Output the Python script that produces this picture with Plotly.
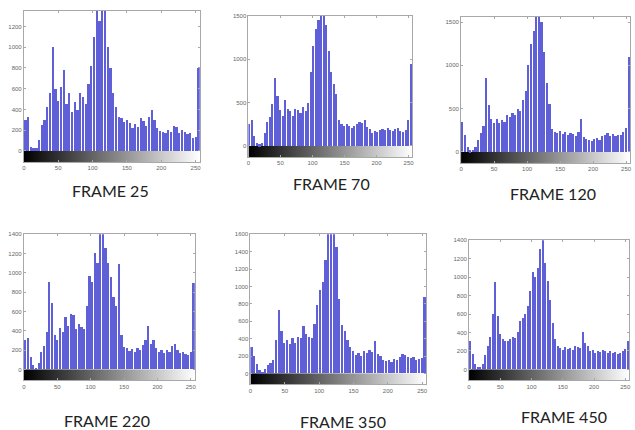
import plotly.graph_objects as go

# gray-level bins (start level of each 4-level bin)
levels = list(range(0, 256, 4))
x_ticks = [0, 50, 100, 150, 200, 250]

frame_labels = ["FRAME 25", "FRAME 70", "FRAME 120", "FRAME 220", "FRAME 350", "FRAME 450"]

frame25 = [300, 330, 40, 30, 30, 110, 250, 300, 420, 560, 1000, 600, 480, 620, 780, 450,
           560, 380, 470, 400, 560, 520, 450, 650, 820, 1100, 1350, 1250, 1350, 1350, 1000, 800,
           560, 420, 330, 320, 280, 300, 270, 220, 260, 230, 320, 290, 240, 330, 400, 300,
           220, 190, 180, 170, 200, 180, 240, 230, 170, 200, 180, 160, 170, 130, 140, 800]
frame70 = [250, 300, 120, 30, 20, 40, 150, 280, 330, 480, 780, 580, 420, 350, 530, 430,
           400, 350, 430, 420, 380, 450, 400, 500, 850, 1150, 1350, 1450, 1500, 1500, 1400, 1100,
           850, 720, 600, 300, 250, 230, 250, 230, 210, 230, 260, 280, 270, 300, 220, 200,
           150, 170, 160, 190, 200, 180, 210, 190, 170, 200, 210, 170, 160, 180, 300, 950]
frame120 = [350, 200, 60, 20, 25, 60, 140, 220, 300, 860, 540, 380, 330, 380, 330, 370,
            350, 430, 400, 450, 430, 500, 470, 600, 700, 1000, 1250, 1400, 1560, 1560, 1500, 1150,
            800, 550, 270, 230, 220, 240, 210, 230, 200, 220, 210, 190, 230, 380, 170, 150,
            140, 130, 150, 160, 140, 180, 200, 220, 190, 210, 180, 200, 200, 230, 280, 1100]
frame220 = [300, 320, 120, 40, 15, 60, 180, 240, 380, 900, 680, 350, 300, 430, 380, 540,
            450, 570, 560, 420, 470, 440, 420, 650, 960, 900, 1200, 1100, 1400, 1400, 1250, 1100,
            950, 750, 650, 1090, 350, 230, 220, 190, 210, 180, 220, 200, 250, 300, 450, 260,
            300, 220, 180, 200, 170, 200, 180, 240, 260, 200, 170, 180, 160, 150, 180, 890]
frame350 = [300, 200, 100, 40, 15, 50, 90, 120, 150, 380, 730, 480, 350, 380, 330, 400,
            350, 420, 400, 540, 450, 420, 400, 560, 780, 950, 1050, 1300, 1600, 1600, 1600, 1450,
            850, 550, 480, 380, 300, 250, 210, 230, 200, 250, 230, 260, 240, 370, 220, 200,
            150, 140, 150, 130, 160, 150, 180, 220, 210, 190, 170, 180, 150, 160, 170, 870]
frame450 = [300, 160, 60, 20, 20, 50, 150, 250, 350, 600, 940, 580, 380, 330, 300, 300,
            330, 350, 340, 400, 520, 550, 600, 680, 850, 1050, 1000, 1100, 1300, 1400, 1150, 950,
            750, 500, 330, 250, 230, 210, 240, 220, 230, 210, 250, 240, 230, 400, 280, 250,
            200, 210, 180, 200, 190, 210, 200, 180, 200, 170, 190, 160, 170, 200, 220, 300]

series = [frame25, frame70, frame120, frame220, frame350, frame450]
y_max = [1350, 1500, 1560, 1400, 1600, 1400]
y_step = [200, 500, 500, 200, 200, 200]

W, H = 635, 430
# pixel layout: (left, right, top, zero line, colorbar bottom)
boxes = [
    (22, 199, 8, 149, 160),
    (248, 413, 13, 144, 155),
    (462, 632, 14, 150, 161),
    (22, 194, 233, 369, 380),
    (250, 427, 233, 373, 384),
    (470, 631, 239, 369, 380),
]
label_pos = [(109, 189), (332, 182), (554, 192), (106, 420), (343, 421), (566, 416)]

BAR = "#5f5fd8"
fig = go.Figure()
for i, (vals, box) in enumerate(zip(series, boxes)):
    k = "" if i == 0 else str(i + 1)
    xa, ya = "x" + k, "y" + k
    left, right, top, zero, bottom = box
    ymax = y_max[i]
    units_per_px = ymax / (zero - top)
    cb = (bottom - zero) * units_per_px
    fig.add_trace(go.Heatmap(
        z=[list(range(256))], x=list(range(257)), y=[-cb, 0],
        colorscale=[[0, "black"], [1, "white"]], zmin=0, zmax=255,
        showscale=False, hoverinfo="skip", xaxis=xa, yaxis=ya))
    fig.add_trace(go.Bar(
        x=[lv + 2 for lv in levels], y=vals, width=3.3,
        marker=dict(color=BAR, line=dict(width=0)),
        xaxis=xa, yaxis=ya, showlegend=False))
    axis_common = dict(showline=True, mirror="ticks", linecolor="#a8a8a8", linewidth=1,
                       ticks="inside", ticklen=2, tickcolor="#a8a8a8",
                       showgrid=False, zeroline=False,
                       tickfont=dict(size=6, color="#666666", family="Liberation Sans"))
    fig.layout["xaxis" + k] = dict(
        domain=[left / W, right / W], anchor=ya, range=[0, 256],
        tickvals=x_ticks, **axis_common)
    fig.layout["yaxis" + k] = dict(
        domain=[1 - bottom / H, 1 - top / H], anchor=xa, range=[-cb, ymax],
        tickvals=list(range(0, ymax + 1, y_step[i])), **axis_common)
    cx, cy = label_pos[i]
    fig.add_annotation(text=frame_labels[i], x=cx / W, y=1 - cy / H, xref="paper", yref="paper",
                       showarrow=False, xanchor="center", yanchor="middle",
                       font=dict(family="Lato", size=16, color="#222222"))

fig.update_layout(width=W, height=H, margin=dict(l=0, r=0, t=0, b=0),
                  paper_bgcolor="white", plot_bgcolor="white", showlegend=False, bargap=0)
fig.write_html("out.html", config={"displayModeBar": False},
               post_script="document.body.style.margin='0px';")
